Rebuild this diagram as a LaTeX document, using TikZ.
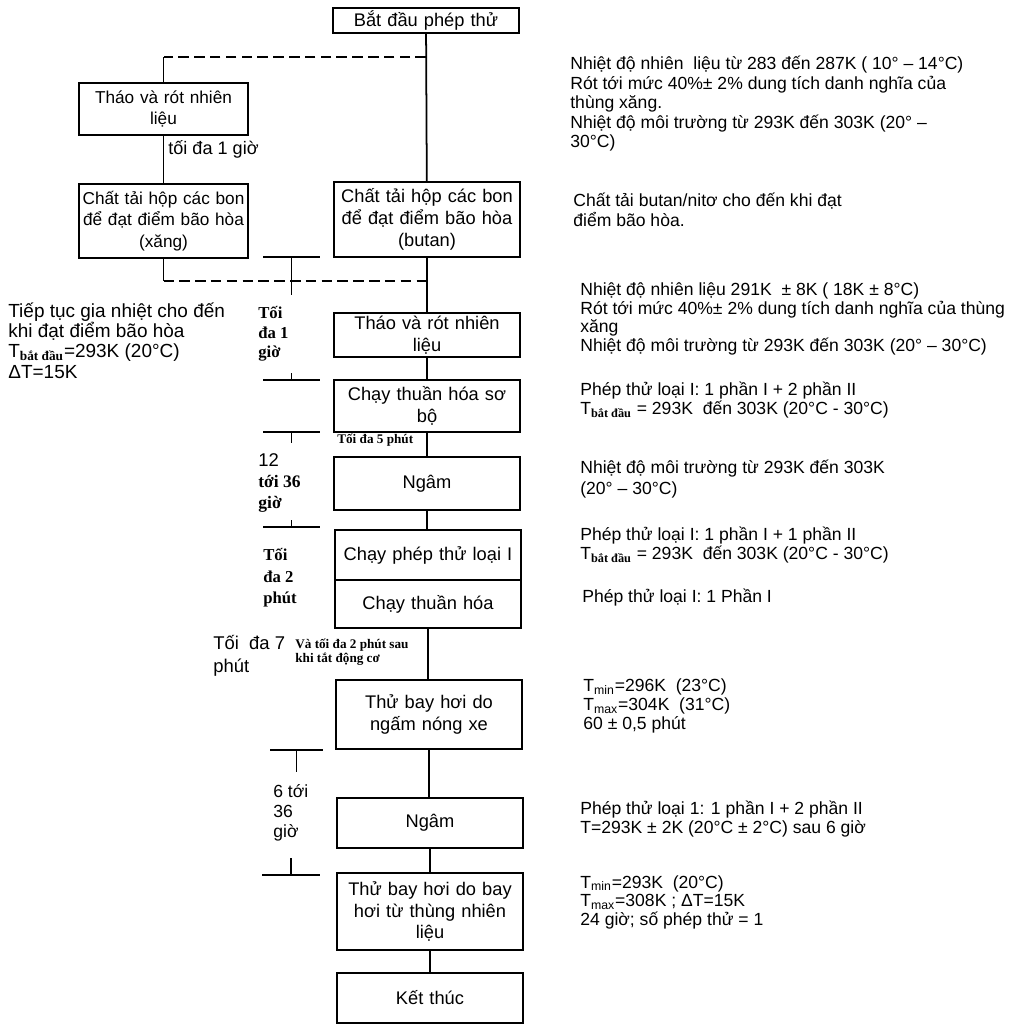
\documentclass[tikz,border=0pt]{standalone}
\usepackage{fontspec}
\setmainfont{Liberation Sans}
\newfontfamily\timesbd{Liberation Serif}
\begin{document}
\begin{tikzpicture}[x=0.02cm, y=-0.02cm,
    stepbox/.style={draw, line width=1pt, minimum width=3.72cm, text width=3.6cm, align=center, inner sep=1pt, font=\fontsize{10.4}{12.4}\selectfont},
    sidebox/.style={stepbox, minimum width=3.38cm, text width=3.3cm, font=\fontsize{9.8}{12.2}\selectfont},
    note/.style={anchor=west, align=left, inner sep=0pt, font=\fontsize{10}{10.5}\selectfont},
    tnote/.style={anchor=west, align=left, inner sep=0pt, font=\timesbd\bfseries\fontsize{9.5}{11.2}\selectfont},
    tiny/.style={anchor=west, align=left, inner sep=0pt, font=\timesbd\bfseries\fontsize{7.5}{8}\selectfont},
    link/.style={line width=1pt},
    dashlink/.style={line width=1pt, dash pattern=on 6pt off 3pt}]
  \useasboundingbox (0,0) rectangle (1014,1025);
  % main column
  \node[stepbox, minimum height=0.5cm] (start) at (426,20.5) {Bắt đầu phép thử};
  \node[stepbox, minimum height=1.5cm] (butan) at (427,219.5) {Chất tải hộp các bon\\để đạt điểm bão hòa\\(butan)};
  \node[stepbox, minimum height=0.88cm] (thao2) at (427,335) {Tháo và rót nhiên\\liệu};
  \node[stepbox, minimum height=1.04cm] (sobo) at (427,406) {Chạy thuần hóa sơ\\bộ};
  \node[stepbox, minimum height=1.06cm] (ngam1) at (427,483.5) {Ngâm};
  \node[stepbox, minimum height=1.0cm] (chay1) at (428,555) {Chạy phép thử loại I};
  \node[stepbox, minimum height=0.96cm] (chay2) at (428,604) {Chạy thuần hóa};
  \node[stepbox, minimum height=1.38cm] (nongxe) at (429,714.5) {Thử bay hơi do\\ngấm nóng xe};
  \node[stepbox, minimum height=1.0cm] (ngam2) at (430,823) {Ngâm};
  \node[stepbox, minimum height=1.54cm] (thung) at (430,911.5) {Thử bay hơi do bay\\hơi từ thùng nhiên\\liệu};
  \node[stepbox, minimum height=1.0cm] (ketthuc) at (430,998) {Kết thúc};
  % left column
  \node[sidebox, minimum height=1.04cm] (thao1) at (163.5,109) {Tháo và rót nhiên\\liệu};
  \node[sidebox, minimum height=1.48cm] (xang) at (163.5,221) {Chất tải hộp các bon\\để đạt điểm bão hòa\\(xăng)};
  \coordinate (split) at (426,57);
  \coordinate (ltop) at (thao1.north |- split);
  \coordinate (join) at (427,281);
  \coordinate (lbot) at (xang.south |- join);
  % connectors
  \draw[link] (start) -- (butan);
  \draw[dashlink] (split) -- (ltop);
  \draw[link] (ltop) -- (thao1.north);
  \draw[link] (thao1) -- (xang);
  \draw[link] (xang.south) -- (lbot);
  \draw[dashlink] (lbot) -- (join);
  \draw[link] (butan) -- (thao2);
  \draw[link] (thao2) -- (sobo);
  \draw[link] (sobo) -- (ngam1);
  \draw[link] (ngam1.south) -- (ngam1.south |- chay1.north);
  \draw[link] (chay2.south) -- (chay2.south |- nongxe.north);
  \draw[link] (nongxe.south) -- (nongxe.south |- ngam2.north);
  \draw[link] (ngam2) -- (thung);
  \draw[link] (thung) -- (ketthuc);
  % time marks
  \foreach \yb/\yt/\xa/\xb in {257/295/263/320, 380/373/263/320, 432/443/263/320, 527/520/263/320, 750/772/270/323, 875/858/262/320}
    \draw[link] (\xa,\yb) -- (\xb,\yb) ({(\xa+\xb)/2},\yb) -- ({(\xa+\xb)/2},\yt);
  % time labels
  \node[note, font=\fontsize{10.3}{11}\selectfont] (lim1) at (168,149) {tối đa 1 giờ};
  \node[tnote] (lim2) at (258,334) {Tối\\đa 1\\giờ};
  \node[tiny] (lim3) at (337,440) {Tối đa 5 phút};
  \node[tnote, font=\timesbd\bfseries\fontsize{10}{11.7}\selectfont] (lim4) at (258,483) {{\normalfont\fontsize{10.5}{11.7}\selectfont 12}\\tới 36\\giờ};
  \node[tnote, font=\timesbd\bfseries\fontsize{9.5}{12.2}\selectfont] (lim5) at (263,578) {Tối\\đa 2\\phút};
  \node[note, font=\fontsize{10.5}{13}\selectfont] (lim6) at (213,656) {Tối\ \ đa 7\\phút};
  \node[tiny] (lim7) at (295,652) {Và tối đa 2 phút sau\\khi tắt động cơ};
  \node[note, font=\fontsize{10}{11.4}\selectfont] (lim8) at (273,813) {6 tới\\36\\giờ};
  \node[note, font=\fontsize{10.8}{11.4}\selectfont] (heat) at (8,341) {Tiếp tục gia nhiệt cho đến\\khi đạt điểm bão hòa\\T\textsubscript{\timesbd\bfseries bắt đầu}=293K (20°C)\\[0.6pt]ΔT=15K};
  % notes on the right
  \node[note, font=\fontsize{10}{11.1}\selectfont] (nA) at (570,104) {Nhiệt độ nhiên\ \ liệu từ 283 đến 287K ( 10° – 14°C)\\Rót tới mức 40\%± 2\% dung tích danh nghĩa của\\thùng xăng.\\Nhiệt độ môi trường từ 293K đến 303K (20° –\\30°C)};
  \node[note, font=\fontsize{10}{11.4}\selectfont] (nB) at (573,210) {Chất tải butan/nitơ cho đến khi đạt\\điểm bão hòa.};
  \node[note] (nC) at (580,319) {Nhiệt độ nhiên liệu 291K\ \ ± 8K ( 18K ± 8°C)\\Rót tới mức 40\%± 2\% dung tích danh nghĩa của thùng\\xăng\\Nhiệt độ môi trường từ 293K đến 303K (20° – 30°C)};
  \node[note, font=\fontsize{10}{9.6}\selectfont] (nD) at (580,400) {Phép thử loại I: 1 phần I + 2 phần II\\T\textsubscript{\timesbd\bfseries bắt đầu} = 293K\ \ đến 303K (20°C - 30°C)};
  \node[note, font=\fontsize{10}{12.3}\selectfont] (nE) at (580,479) {Nhiệt độ môi trường từ 293K đến 303K\\(20° – 30°C)};
  \node[note, font=\fontsize{10}{9.6}\selectfont] (nF) at (580,545) {Phép thử loại I: 1 phần I + 1 phần II\\T\textsubscript{\timesbd\bfseries bắt đầu} = 293K\ \ đến 303K (20°C - 30°C)};
  \node[note] (nG) at (582,598) {Phép thử loại I: 1 Phần I};
  \node[note, font=\fontsize{10}{10.8}\selectfont] (nH) at (583,706) {T\textsubscript{min}=296K\ \ (23°C)\\T\textsubscript{max}=304K\ \ (31°C)\\60 ± 0,5 phút};
  \node[note] (nI) at (580,819) {Phép thử loại 1: 1 phần I + 2 phần II\\T=293K ± 2K (20°C ± 2°C) sau 6 giờ};
  \node[note] (nJ) at (580,902) {T\textsubscript{min}=293K\ \ (20°C)\\T\textsubscript{max}=308K ; ΔT=15K\\24 giờ; số phép thử = 1};
\end{tikzpicture}
\end{document}
